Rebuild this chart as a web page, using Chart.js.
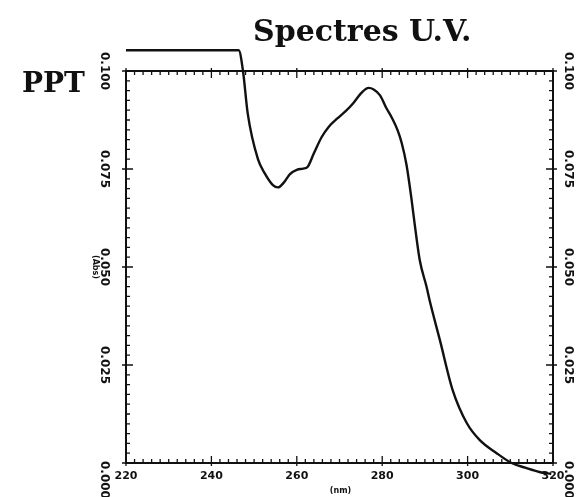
<!DOCTYPE html>
<html>
<head>
<meta charset="utf-8">
<script src="https://cdn.jsdelivr.net/npm/chart.js@4/dist/chart.umd.min.js"></script>
<style>
html,body{margin:0;padding:0;background:#fff;}
#wrap{position:relative;width:576px;height:497px;}
canvas{display:block;}
</style>
</head>
<body>
<div id="wrap"><canvas id="c" width="576" height="497"></canvas></div>
<script>
// Data (wavelength in nm, absorbance)
const wavelengths = [220, 246.4, 247.4, 248.5, 250.9, 252.5, 254.4, 255.6, 257.0, 258.4, 260.0, 261.5, 262.5, 264.0, 265.8, 267.5, 269.5, 271.5, 273.0, 275.2, 276.8, 278.0, 279.5, 281.0, 282.2, 283.6, 284.6, 285.7, 286.9, 287.6, 288.8, 290.4, 291.1, 293.5, 296.5, 299.8, 302.8, 306.8, 310.3, 313.5, 316.8, 319.6];
const absorbance = [0.1053, 0.1053, 0.1000, 0.0892, 0.0775, 0.0739, 0.0709, 0.0703, 0.0716, 0.0737, 0.0748, 0.0751, 0.0755, 0.0790, 0.0831, 0.0858, 0.0879, 0.0898, 0.0915, 0.0945, 0.0957, 0.0953, 0.0938, 0.0905, 0.0882, 0.0849, 0.0815, 0.0760, 0.0670, 0.0610, 0.0517, 0.0449, 0.0415, 0.0314, 0.0186, 0.0102, 0.0059, 0.0025, 0.0000, -0.0012, -0.0023, -0.0028];
const xTickLabels = ["220", "240", "260", "280", "300", "320"];
const xTickValues = [220, 240, 260, 280, 300, 320];
const yTickLabels = ["0.000", "0.025", "0.050", "0.075", "0.100"];
const yTickValues = [0, 0.025, 0.05, 0.075, 0.1];
const titleText = "Spectres U.V.";
const sampleText = "PPT";
const xAxisUnit = "(nm)";
const yAxisUnit = "(Abs)";

const points = wavelengths.map((w, i) => ({x: w, y: absorbance[i]}));

const framePlugin = {
  id: 'frame',
  afterDraw(chart) {
    const ctx = chart.ctx;
    const xs = chart.scales.x, ys = chart.scales.y;
    const a = chart.chartArea;
    ctx.save();
    ctx.strokeStyle = '#111';
    ctx.fillStyle = '#111';
    // frame
    ctx.lineWidth = 2;
    ctx.strokeRect(a.left, a.top, a.right - a.left, a.bottom - a.top);
    // x ticks every 2 nm
    ctx.lineWidth = 1.3;
    ctx.beginPath();
    for (let v = xs.min; v <= xs.max + 0.001; v += 2) {
      const px = xs.getPixelForValue(v);
      const major = Math.abs(v % 20) < 0.001;
      const len = major ? 7 : 4;
      ctx.moveTo(px, a.bottom + (major ? 3 : 0)); ctx.lineTo(px, a.bottom - len);
      ctx.moveTo(px, a.top - (major ? 3 : 0)); ctx.lineTo(px, a.top + len);
    }
    // y ticks every 0.0025
    for (let k = 0; k <= 40; k++) {
      const v = k * 0.0025;
      const py = ys.getPixelForValue(v);
      const major = k % 10 === 0;
      const len = major ? 7 : 4;
      ctx.moveTo(a.left - (major ? 4 : 0), py); ctx.lineTo(a.left + len, py);
      ctx.moveTo(a.right + (major ? 4 : 0), py); ctx.lineTo(a.right - len, py);
    }
    ctx.stroke();

    // x tick labels
    ctx.font = 'bold 11px "DejaVu Sans"';
    ctx.textAlign = 'center';
    ctx.textBaseline = 'middle';
    xTickValues.forEach((v, i) => {
      ctx.fillText(xTickLabels[i], xs.getPixelForValue(v), a.bottom + 13);
    });
    ctx.font = 'bold 8px "DejaVu Sans"';
    ctx.fillText(xAxisUnit, (a.left + a.right) / 2 + 1, a.bottom + 28);

    // y tick labels rotated (reading downward)
    ctx.font = 'bold 12px "DejaVu Sans"';
    yTickValues.forEach((v, i) => {
      const py = ys.getPixelForValue(v);
      [a.left - 22, a.right + 15].forEach(px => {
        ctx.save();
        ctx.translate(px, py);
        ctx.rotate(Math.PI / 2);
        if (v === 0) { ctx.textAlign = 'left'; ctx.fillText(yTickLabels[i], -2, 0); }
        else { ctx.textAlign = 'center'; ctx.fillText(yTickLabels[i], 0, 0); }
        ctx.restore();
      });
    });
    ctx.save();
    ctx.font = 'bold 8px "DejaVu Sans"';
    ctx.translate(a.left - 31, ys.getPixelForValue(0.05));
    ctx.rotate(Math.PI / 2);
    ctx.fillText(yAxisUnit, 0, 0);
    ctx.restore();

    // titles
    ctx.textAlign = 'left';
    ctx.textBaseline = 'alphabetic';
    ctx.font = 'bold 30px "DejaVu Serif"';
    ctx.fillText(titleText, 253, 41);
    ctx.font = 'bold 28px "DejaVu Serif"';
    ctx.fillText(sampleText, 22, 92);
    ctx.restore();
  }
};

new Chart(document.getElementById('c'), {
  type: 'line',
  data: {
    datasets: [{
      data: points,
      borderColor: '#111',
      borderWidth: 2.4,
      pointRadius: 0,
      fill: false,
      cubicInterpolationMode: 'monotone',
      clip: false
    }]
  },
  options: {
    responsive: false,
    animation: false,
    layout: {padding: {left: 126, right: 23, top: 71, bottom: 34}},
    plugins: {legend: {display: false}, tooltip: {enabled: false}, title: {display: false}},
    scales: {
      x: {type: 'linear', min: 220, max: 320, display: false},
      y: {type: 'linear', min: 0, max: 0.1, display: false}
    }
  },
  plugins: [framePlugin]
});
</script>
</body>
</html>
